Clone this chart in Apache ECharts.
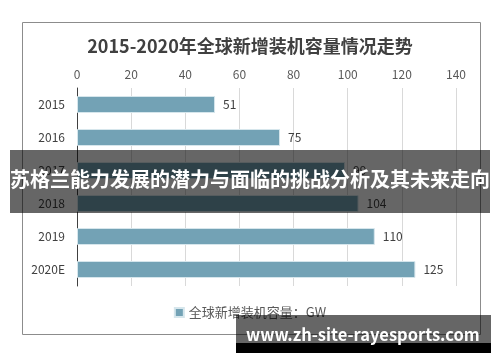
<!DOCTYPE html>
<html><head><meta charset="utf-8">
<script src="https://cdn.jsdelivr.net/npm/echarts@6/dist/echarts.min.js"></script>
<style>html,body{margin:0;padding:0;background:#fff}#c{width:500px;height:362px}</style>
</head><body><div id="c"></div>
<script>
const categories = ['2015','2016','2017','2018','2019','2020E'];
const values = [51, 75, 99, 104, 110, 125];
const axisTicks = [0, 20, 40, 60, 80, 100, 120, 140];
const titleText = '2015-2020年全球新增装机容量情况走势';
const seriesName = '全球新增装机容量：GW';
const bannerText = '苏格兰能力发展的潜力与面临的挑战分析及其未来走向';
const watermark = 'www.zh-site-rayesports.com';

const font = '"Noto Sans CJK SC", "Noto Sans", sans-serif';
const chart = echarts.init(document.getElementById('c'));
chart.setOption({
  animation: false,
  backgroundColor: '#fff',
  textStyle: {fontFamily: font},
  title: {text: titleText, left: 'center', top: 32,
    textStyle: {fontSize: 18, fontWeight: 'bold', color: '#404040', fontFamily: font}},
  grid: {left: 77, right: 44, top: 88, bottom: 76, containLabel: false},
  legend: {bottom: 38, left: 'center', icon: 'rect', itemWidth: 9, itemHeight: 9, itemGap: 5,
    textStyle: {fontSize: 13, color: '#595959', fontFamily: font}, data: [seriesName]},
  xAxis: {type: 'value', position: 'top', min: axisTicks[0], max: axisTicks[axisTicks.length-1], interval: 20,
    axisLine: {show: false}, axisTick: {show: false},
    axisLabel: {color: '#595959', fontSize: 12, margin: 8},
    splitLine: {lineStyle: {color: '#d9d9d9', width: 1}}},
  yAxis: {type: 'category', data: categories, inverse: true,
    axisLine: {show: true, lineStyle: {color: '#404040', width: 1}}, axisTick: {show: false},
    axisLabel: {color: '#404040', fontSize: 12, margin: 12}},
  series: [{name: seriesName, type: 'bar', data: values, barWidth: 17,
    itemStyle: {color: '#73a2b5', borderColor: '#d6e6ec', borderWidth: 1},
    label: {show: true, position: 'right', distance: 8, color: '#404040', fontSize: 12}}],
  graphic: [
    {type: 'rect', z: 0, silent: true, shape: {x: 22.5, y: 22.5, width: 458, height: 312},
      style: {fill: 'none', stroke: '#8c8c8c', lineWidth: 1}},
    {type: 'rect', z: 100, shape: {x: 10, y: 150, width: 480, height: 63}, style: {fill: 'rgba(0,0,0,0.6)'}},
    {type: 'text', z: 101, left: 'center', top: 169,
      style: {text: bannerText, fill: '#fff', font: 'bold 20px ' + font}},
    {type: 'rect', z: 100, shape: {x: 236, y: 315, width: 255, height: 28}, style: {fill: 'rgba(0,0,0,0.6)'}},
    {type: 'rect', z: 100, shape: {x: 236, y: 343, width: 255, height: 10}, style: {fill: '#000'}},
    {type: 'text', z: 101, x: 246, y: 326,
      style: {text: watermark, fill: '#fff', font: 'bold 16.5px ' + font}}
  ]
});
</script></body></html>
